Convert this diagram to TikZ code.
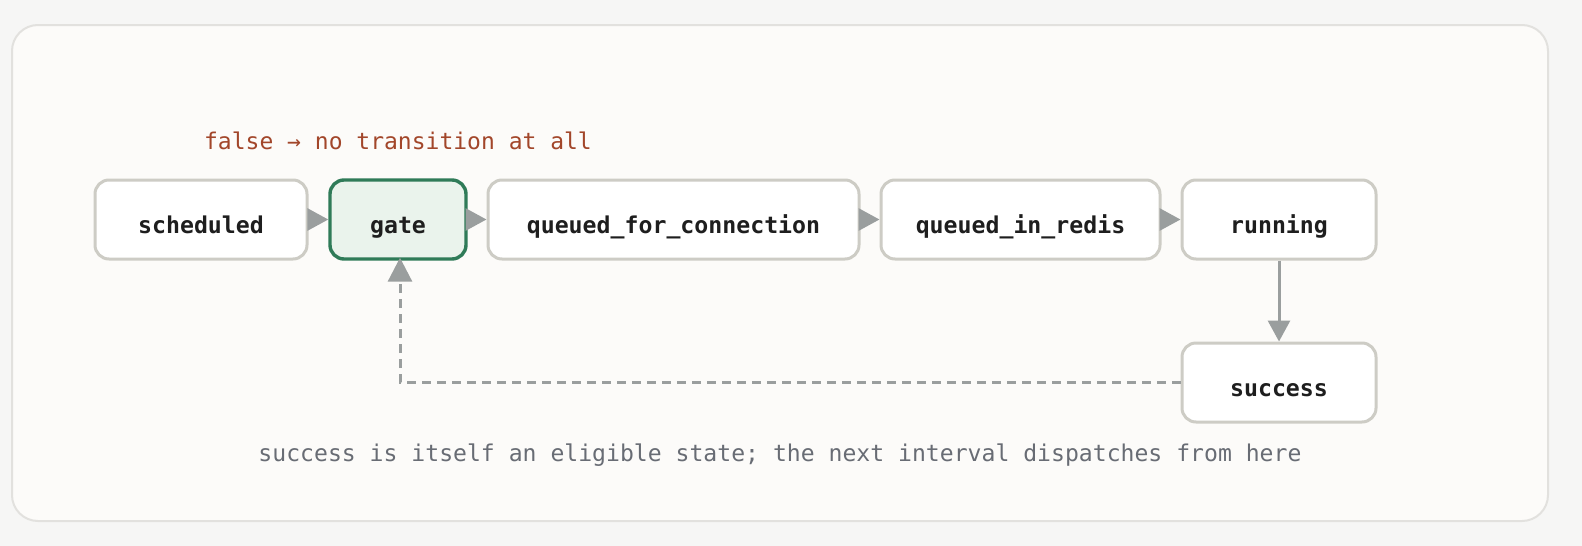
\documentclass[tikz,border=0pt]{standalone}
\usepackage{fontspec}
\setmonofont{DejaVu Sans Mono}
\usetikzlibrary{arrows.meta}
\definecolor{pagebg}{HTML}{F6F6F5}
\definecolor{cardbg}{HTML}{FCFBF9}
\definecolor{cardline}{HTML}{E2E1DE}
\definecolor{boxline}{HTML}{CDCCC5}
\definecolor{gatefill}{HTML}{EAF3EC}
\definecolor{gateline}{HTML}{2F7B58}
\definecolor{arrowgray}{HTML}{9A9E9E}
\definecolor{redtext}{HTML}{A2462A}
\definecolor{graytext}{HTML}{686C74}
\definecolor{labeltext}{HTML}{1E1E1E}
\tikzset{
  statebox/.style={draw=boxline, line width=3pt, fill=white, rounded corners=14pt,
    minimum height=79pt, inner sep=0pt, text height=30pt, text depth=3pt,
    font=\ttfamily\bfseries\fontsize{23.2}{27}\selectfont, text=labeltext},
  gatebox/.style={statebox, draw=gateline, fill=gatefill, line width=3.4pt},
  flow/.style={draw=arrowgray, line width=3pt, -{Triangle[length=21pt,width=22pt]}},
  back/.style={draw=arrowgray, line width=3pt, dash pattern=on 9pt off 6pt, -{Triangle[length=24pt,width=24pt]}},
  redstyle/.style={font=\ttfamily\fontsize{23.0}{27}\selectfont, inner sep=0pt, text=redtext},
  graystyle/.style={font=\ttfamily\fontsize{23.1}{27}\selectfont, inner sep=0pt, text=graytext}
}
\begin{document}
\begin{tikzpicture}[x=1pt,y=-1pt]
\fill[pagebg] (0,0) rectangle (1582,546);
\useasboundingbox (0,0) rectangle (1582,546);
\draw[cardline, fill=cardbg, line width=2pt, rounded corners=26pt] (12,25) rectangle (1548,521);

\node[statebox, minimum width=212pt] (sched) at (201,219.5) {scheduled};
\node[gatebox, minimum width=136pt] (gate) at (398,219.5) {gate};
\node[statebox, minimum width=371pt] (qfc) at (673.5,219.5) {queued\_for\_connection};
\node[statebox, minimum width=279pt] (qir) at (1020.5,219.5) {queued\_in\_redis};
\node[statebox, minimum width=194pt] (run) at (1279,219.5) {running};
\node[statebox, minimum width=194pt] (succ) at (1279,382.5) {success};

\node[redstyle] (falsenote) at (398,141) {false → no transition at all};
\node[graystyle] (succnote) at (780,455) {success is itself an eligible state; the next interval dispatches from here};

\draw[flow] (sched.east) -- (gate.west);
\draw[flow] (gate.east) -- (qfc.west);
\draw[flow] (qfc.east) -- (qir.west);
\draw[flow] (qir.east) -- (run.west);
\draw[flow] (run.south) -- (succ.north);
\coordinate (corner) at (400,382.5);
\draw[back] (succ.west) -- (corner) -- ([xshift=2pt,yshift=3pt]gate.south);
\end{tikzpicture}
\end{document}
